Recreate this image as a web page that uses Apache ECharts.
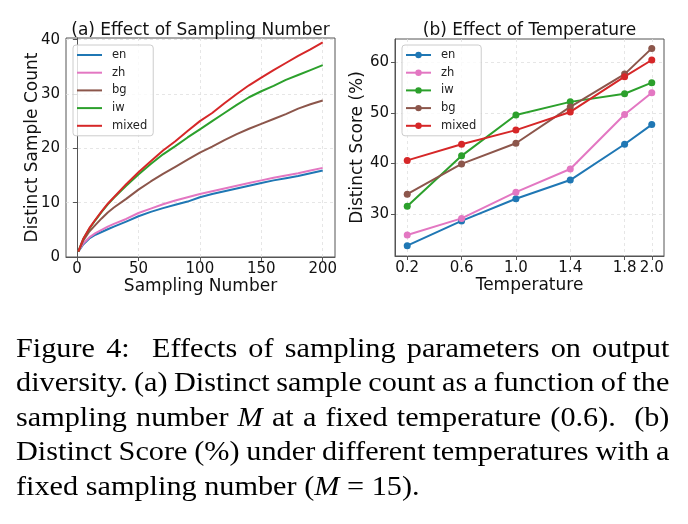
<!DOCTYPE html>
<html>
<head>
<meta charset="utf-8">
<script src="https://cdn.jsdelivr.net/npm/echarts@6/dist/echarts.min.js"></script>
<style>
html,body{margin:0;padding:0;background:#fff;width:688px;height:524px;overflow:hidden;}
#chart{position:absolute;left:0;top:0;width:688px;height:524px;}
#caption{position:absolute;left:16px;top:330.5px;width:594px;transform-origin:0 0;transform:scaleX(1.1);
  font-family:"Liberation Serif","Times New Roman",serif;font-size:27.5px;line-height:34.5px;color:#000;}
#caption div{white-space:nowrap;text-align:justify;text-align-last:justify;}
#caption div.tight{word-spacing:-1.8px;}
#caption div.last{text-align-last:left;}
</style>
</head>
<body>
<div id="chart"></div>
<div id="caption">
<div>Figure 4:&nbsp; Effects of sampling parameters on output</div>
<div class="tight">diversity. (a) Distinct sample count as a function of the</div>
<div>sampling number <i>M</i> at a fixed temperature (0.6).&nbsp; (b)</div>
<div class="tight">Distinct Score (%) under different temperatures with a</div>
<div class="last">fixed sampling number (<i>M</i> = 15).</div>
</div>
<script>
// ---- (a) Effect of Sampling Number ----
const samplingX   = [1, 5, 10, 15, 20, 25, 30, 40, 50, 60, 70, 80, 90, 100, 110, 120, 130, 140, 150, 160, 170, 180, 190, 200];
const countEn     = [1, 2.3, 3.4, 4.1, 4.6, 5.1, 5.6, 6.5, 7.5, 8.3, 9.0, 9.6, 10.2, 11.0, 11.6, 12.1, 12.6, 13.1, 13.6, 14.1, 14.5, 14.9, 15.4, 15.9];
const countZh     = [1, 2.5, 3.6, 4.4, 5.0, 5.6, 6.1, 7.0, 8.1, 8.9, 9.7, 10.4, 11.0, 11.6, 12.1, 12.6, 13.1, 13.6, 14.1, 14.6, 15.0, 15.4, 15.9, 16.4];
const countBg     = [1, 3.0, 4.7, 5.9, 7.1, 8.2, 9.1, 10.7, 12.4, 13.9, 15.3, 16.6, 17.9, 19.2, 20.3, 21.5, 22.6, 23.6, 24.5, 25.4, 26.3, 27.3, 28.1, 28.8];
const countIw     = [1, 3.3, 5.2, 6.8, 8.3, 9.7, 10.9, 13.1, 15.2, 17.1, 18.9, 20.4, 22.0, 23.5, 25.0, 26.5, 28.0, 29.4, 30.5, 31.5, 32.6, 33.5, 34.4, 35.3];
const countMixed  = [1, 3.3, 5.3, 6.9, 8.4, 9.8, 11.0, 13.4, 15.6, 17.6, 19.6, 21.3, 23.2, 25.0, 26.5, 28.3, 30.0, 31.6, 33.0, 34.4, 35.7, 37.0, 38.2, 39.5];
const ticksAX = [0, 50, 100, 150, 200];
const ticksAY = [0, 10, 20, 30, 40];

// ---- (b) Effect of Temperature ----
const temperatures = [0.2, 0.6, 1.0, 1.4, 1.8, 2.0];
const scoreEn    = [23.7, 28.6, 33.0, 36.7, 43.8, 47.7];
const scoreZh    = [25.8, 29.1, 34.3, 38.9, 49.7, 54.0];
const scoreIw    = [31.5, 41.5, 49.6, 52.2, 53.8, 56.0];
const scoreBg    = [33.9, 39.9, 44.0, 51.2, 57.7, 62.8];
const scoreMixed = [40.6, 43.8, 46.6, 50.2, 57.2, 60.5];
const ticksBX = [0.2, 0.6, 1.0, 1.4, 1.8, 2.0];
const ticksBY = [30, 40, 50, 60];

const C = {en:'#1f77b4', zh:'#e377c2', bg:'#8c564b', iw:'#2ca02c', mixed:'#d62728'};
const FONT = '"DejaVu Sans", sans-serif';
const AX = '#555';

function pairs(xs, ys){ return xs.map((x,i)=>[x, ys[i]]); }

function axisCommon(ticks, margin, fmt){
  return {
    axisLine:{show:true, lineStyle:{color:AX, width:1}},
    axisTick:{show:true, length:4, customValues:ticks, lineStyle:{color:AX, width:1}},
    axisLabel:{customValues:ticks, fontSize:15, color:'#111', fontFamily:FONT, margin:margin, formatter:fmt},
    splitLine:{show:true, lineStyle:{color:'#e0e0e0', width:0.8, type:[3,3]}},
    nameTextStyle:{fontSize:17, color:'#111', fontFamily:FONT},
    nameLocation:'middle',
    nameMoveOverlap:false
  };
}

function lineA(name, ys, color){
  return {type:'line', name:name, xAxisIndex:0, yAxisIndex:0, data:pairs(samplingX, ys),
    symbol:'none', lineStyle:{width:2, color:color}, itemStyle:{color:color}, z:3};
}
function lineB(name, ys, color){
  return {type:'line', name:name+' (b)', xAxisIndex:1, yAxisIndex:1, data:pairs(temperatures, ys),
    symbol:'circle', symbolSize:7, lineStyle:{width:2, color:color}, itemStyle:{color:color}, z:3};
}

const chart = echarts.init(document.getElementById('chart'), null, {renderer:'canvas'});
const legendBase = {
  orient:'vertical', itemWidth:25, itemGap:5.7, selectedMode:false,
  borderColor:'#cccccc', borderWidth:1, borderRadius:3, backgroundColor:'rgba(255,255,255,0.8)',
  textStyle:{fontSize:11.5, color:'#222', fontFamily:FONT, lineHeight:12, padding:[0,0,0,5]}
};
chart.setOption({
  animation:false,
  backgroundColor:'#fff',
  grid:[
    {left:66, top:38, width:269, height:219, show:true, borderColor:AX, borderWidth:1, backgroundColor:'transparent'},
    {left:395, top:39, width:269, height:217, show:true, borderColor:AX, borderWidth:1, backgroundColor:'transparent'}
  ],
  xAxis:[
    Object.assign(axisCommon(ticksAX, 5), {type:'value', gridIndex:0, min:-9, max:210, name:'Sampling Number', nameGap:21}),
    Object.assign(axisCommon(ticksBX, 5, v=>Number(v).toFixed(1)), {type:'value', gridIndex:1, min:0.11, max:2.09, name:'Temperature', nameGap:21})
  ],
  yAxis:[
    Object.assign(axisCommon(ticksAY, 6), {type:'value', gridIndex:0, min:0, max:40.3, name:'Distinct Sample Count', nameGap:25}),
    Object.assign(axisCommon(ticksBY, 6), {type:'value', gridIndex:1, min:21.65, max:64.66, name:'Distinct Score (%)', nameGap:29})
  ],
  legend:[
    Object.assign({}, legendBase, {left:73, top:45, icon:'rect', itemHeight:2, padding:[4,6,4,4],
      data:['en','zh','bg','iw','mixed']}),
    Object.assign({}, legendBase, {left:402, top:45, itemHeight:8, padding:[4,5,4,3],
      data:['en (b)','zh (b)','iw (b)','bg (b)','mixed (b)'], formatter:n=>n.replace(' (b)','')})
  ],
  graphic:[
    {type:'text', x:200.5, y:31, style:{text:'(a) Effect of Sampling Number', font:'17px "DejaVu Sans"', fill:'#111', align:'center', verticalAlign:'middle'}},
    {type:'text', x:529.5, y:31, style:{text:'(b) Effect of Temperature', font:'17px "DejaVu Sans"', fill:'#111', align:'center', verticalAlign:'middle'}}
  ],
  series:[
    lineA('en', countEn, C.en),
    lineA('zh', countZh, C.zh),
    lineA('bg', countBg, C.bg),
    lineA('iw', countIw, C.iw),
    lineA('mixed', countMixed, C.mixed),
    lineB('en', scoreEn, C.en),
    lineB('zh', scoreZh, C.zh),
    lineB('iw', scoreIw, C.iw),
    lineB('bg', scoreBg, C.bg),
    lineB('mixed', scoreMixed, C.mixed)
  ]
});
</script>
</body>
</html>
